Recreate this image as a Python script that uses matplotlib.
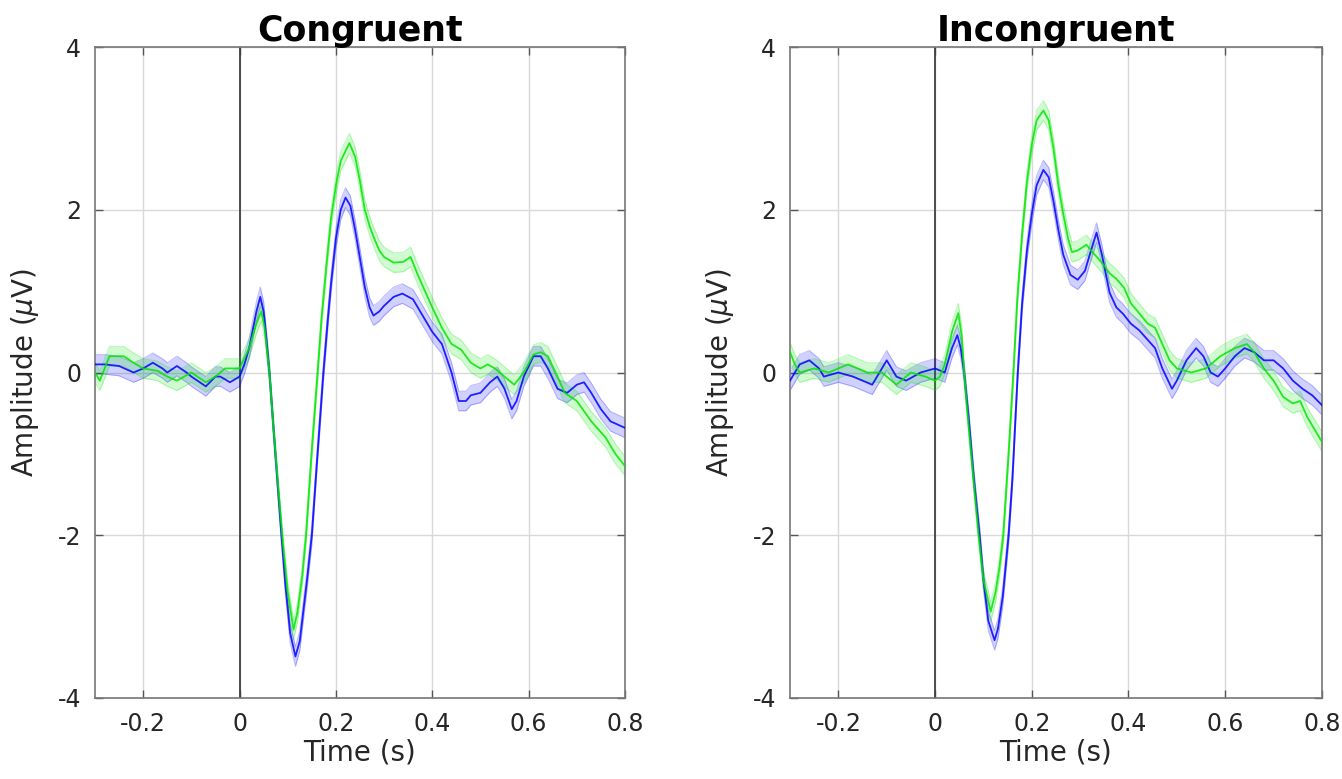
import numpy as np
import matplotlib
matplotlib.use("Agg")
import matplotlib.pyplot as plt

# Congruent condition
con_blue_t = [-0.3, -0.28, -0.25, -0.22, -0.2, -0.18, -0.16, -0.15, -0.13, -0.11, -0.1, -0.07, -0.05,
              -0.04, -0.02, 0.0, 0.01, 0.02, 0.035, 0.043, 0.05, 0.055, 0.062, 0.07, 0.08, 0.087,
              0.095, 0.105, 0.116, 0.125, 0.13, 0.14, 0.15, 0.16, 0.174, 0.183, 0.19, 0.2, 0.21,
              0.22, 0.23, 0.24, 0.25, 0.26, 0.27, 0.278, 0.29, 0.3, 0.32, 0.338, 0.36, 0.38, 0.4,
              0.42, 0.44, 0.455, 0.47, 0.48, 0.5, 0.52, 0.535, 0.55, 0.565, 0.575, 0.59, 0.61,
              0.625, 0.64, 0.66, 0.68, 0.7, 0.715, 0.73, 0.75, 0.77, 0.8]
con_blue_v = [0.1, 0.1, 0.08, 0.0, 0.05, 0.12, 0.05, 0.0, 0.08, 0.0, -0.05, -0.17, -0.05,
              -0.05, -0.12, -0.05, 0.1, 0.3, 0.75, 0.93, 0.75, 0.45, 0.0, -0.65, -1.45, -2.0,
              -2.6, -3.2, -3.49, -3.3, -3.05, -2.55, -2.0, -1.15, 0.0, 0.64, 1.1, 1.65, 2.0,
              2.15, 2.05, 1.75, 1.4, 1.05, 0.8, 0.7, 0.75, 0.82, 0.93, 0.97, 0.9, 0.7, 0.5,
              0.35, 0.0, -0.35, -0.35, -0.28, -0.25, -0.12, -0.05, -0.2, -0.45, -0.35, -0.05, 0.2,
              0.2, 0.05, -0.2, -0.25, -0.15, -0.12, -0.25, -0.45, -0.6, -0.68]

con_green_t = [-0.3, -0.29, -0.28, -0.27, -0.24, -0.22, -0.2, -0.17, -0.15, -0.13, -0.1, -0.07,
               -0.05, -0.03, 0.0, 0.02, 0.035, 0.045, 0.052, 0.062, 0.07, 0.08, 0.09, 0.1, 0.112,
               0.12, 0.13, 0.138, 0.15, 0.162, 0.17, 0.18, 0.19, 0.2, 0.21, 0.228, 0.24, 0.25,
               0.26, 0.27, 0.278, 0.29, 0.3, 0.32, 0.34, 0.355, 0.37, 0.385, 0.4, 0.42, 0.44,
               0.46, 0.48, 0.5, 0.515, 0.53, 0.55, 0.57, 0.59, 0.61, 0.625, 0.64, 0.66, 0.675,
               0.7, 0.73, 0.76, 0.78, 0.8]
con_green_v = [0.0, -0.1, 0.05, 0.2, 0.2, 0.12, 0.05, 0.02, -0.05, -0.1, 0.0, -0.12,
               -0.05, 0.05, 0.05, 0.3, 0.6, 0.75, 0.55, 0.0, -0.65, -1.4, -2.1, -2.7, -3.16,
               -2.95, -2.5, -2.0, -0.95, 0.0, 0.65, 1.3, 1.9, 2.3, 2.6, 2.82, 2.65, 2.35,
               2.0, 1.8, 1.67, 1.5, 1.42, 1.35, 1.36, 1.42, 1.2, 1.0, 0.8, 0.55, 0.35,
               0.28, 0.12, 0.05, 0.1, 0.05, -0.05, -0.15, 0.0, 0.22, 0.25, 0.2, -0.05, -0.25,
               -0.35, -0.6, -0.8, -1.0, -1.15]

# Incongruent condition
inc_blue_t = [-0.3, -0.28, -0.26, -0.24, -0.23, -0.2, -0.17, -0.15, -0.13, -0.115, -0.1, -0.09,
              -0.08, -0.06, -0.03, 0.0, 0.02, 0.035, 0.046, 0.053, 0.06, 0.07, 0.08, 0.092, 0.1,
              0.11, 0.123, 0.13, 0.14, 0.152, 0.16, 0.171, 0.18, 0.19, 0.2, 0.21, 0.224, 0.235,
              0.245, 0.255, 0.265, 0.28, 0.295, 0.31, 0.32, 0.334, 0.345, 0.361, 0.375, 0.389,
              0.405, 0.422, 0.44, 0.455, 0.47, 0.49, 0.5, 0.52, 0.54, 0.555, 0.57, 0.585, 0.6,
              0.62, 0.64, 0.66, 0.68, 0.7, 0.72, 0.74, 0.76, 0.78, 0.8]
inc_blue_v = [-0.1, 0.1, 0.15, 0.05, -0.05, 0.0, -0.05, -0.1, -0.15, 0.0, 0.15, 0.05,
              -0.05, -0.1, 0.0, 0.05, 0.0, 0.3, 0.46, 0.3, 0.0, -0.6, -1.3, -2.0, -2.55,
              -3.05, -3.29, -3.15, -2.75, -2.0, -1.3, 0.0, 0.85, 1.5, 1.95, 2.3, 2.49, 2.4,
              2.1, 1.75, 1.45, 1.2, 1.14, 1.25, 1.45, 1.72, 1.45, 0.98, 0.8, 0.72,
              0.6, 0.52, 0.4, 0.3, 0.05, -0.2, -0.1, 0.15, 0.3, 0.2, 0.0, -0.05, 0.05,
              0.2, 0.3, 0.25, 0.15, 0.15, 0.05, -0.1, -0.2, -0.28, -0.4]

inc_green_t = [-0.3, -0.29, -0.28, -0.25, -0.22, -0.18, -0.14, -0.11, -0.08, -0.05, -0.02, 0.0,
               0.01, 0.02, 0.035, 0.048, 0.055, 0.06, 0.07, 0.08, 0.09, 0.1, 0.115, 0.125, 0.133,
               0.141, 0.152, 0.162, 0.17, 0.18, 0.19, 0.2, 0.21, 0.224, 0.235, 0.245, 0.255,
               0.265, 0.275, 0.283, 0.295, 0.313, 0.33, 0.345, 0.361, 0.375, 0.391, 0.405,
               0.422, 0.44, 0.455, 0.47, 0.485, 0.5, 0.53, 0.56, 0.59, 0.62, 0.645, 0.66,
               0.68, 0.7, 0.72, 0.74, 0.755, 0.77, 0.8]
inc_green_v = [0.25, 0.1, 0.0, 0.05, 0.0, 0.1, 0.0, 0.0, -0.15, 0.0, -0.05, -0.1,
               -0.05, 0.1, 0.5, 0.73, 0.45, 0.0, -0.7, -1.35, -2.0, -2.55, -2.94, -2.7, -2.4,
               -2.0, -1.0, 0.0, 0.9, 1.7, 2.35, 2.8, 3.1, 3.22, 3.1, 2.75, 2.3,
               1.95, 1.65, 1.48, 1.5, 1.57, 1.45, 1.35, 1.22, 1.15, 1.04, 0.85,
               0.73, 0.6, 0.55, 0.35, 0.15, 0.05, 0.0, 0.05, 0.2, 0.3, 0.35, 0.25,
               0.05, -0.1, -0.3, -0.38, -0.35, -0.55, -0.85]

sem = 0.12
titles = ["Congruent", "Incongruent"]
panels = [[(con_blue_t, con_blue_v), (con_green_t, con_green_v)],
          [(inc_blue_t, inc_blue_v), (inc_green_t, inc_green_v)]]
colors = [(0, 0, 1), (0, 0.9, 0)]

plt.rcParams['font.family'] = 'DejaVu Sans'
fig = plt.figure(figsize=(13.42, 7.79), dpi=100)
rects = [[0.0708, 0.104, 0.3949, 0.8356], [0.5887, 0.104, 0.3963, 0.8356]]

for rect, title, series in zip(rects, titles, panels):
    ax = fig.add_axes(rect)
    ax.grid(True, color='#d9d9d9', linewidth=1)
    ax.set_axisbelow(True)
    ax.axvline(0, color='#404040', linewidth=1.3, zorder=1)
    for (t, v), c in zip(series, colors):
        t = np.array(t)
        v = np.array(v)
        ax.fill_between(t, v - sem, v + sem, color=c, alpha=0.18, linewidth=0, zorder=2)
        ax.plot(t, v - sem, color=c, alpha=0.25, linewidth=0.8, zorder=2)
        ax.plot(t, v + sem, color=c, alpha=0.25, linewidth=0.8, zorder=2)
        ax.plot(t, v, color=c, linewidth=1.3, alpha=0.85, zorder=3)
    ax.set_xlim(-0.3, 0.8)
    ax.set_ylim(-4, 4)
    ax.set_xticks([-0.2, 0, 0.2, 0.4, 0.6, 0.8])
    ax.set_xticklabels(['-0.2', '0', '0.2', '0.4', '0.6', '0.8'])
    ax.set_yticks([-4, -2, 0, 2, 4])
    ax.set_yticklabels(['-4', '-2', '0', '2', '4'])
    ax.tick_params(direction='in', top=True, right=True, length=6, width=1,
                   color='#555555', labelsize=17, labelcolor='#262626', pad=10)
    for s in ax.spines.values():
        s.set_color('#777777')
        s.set_linewidth(1.2)
    ax.set_xlabel('Time (s)', fontsize=20, color='#262626', labelpad=2)
    ax.set_ylabel(r'Amplitude ($\mu$V)', fontsize=20, color='#262626', labelpad=12)
    ax.set_title(title, fontsize=25, fontweight='bold', pad=4)

fig.savefig('out.png', dpi=100)
